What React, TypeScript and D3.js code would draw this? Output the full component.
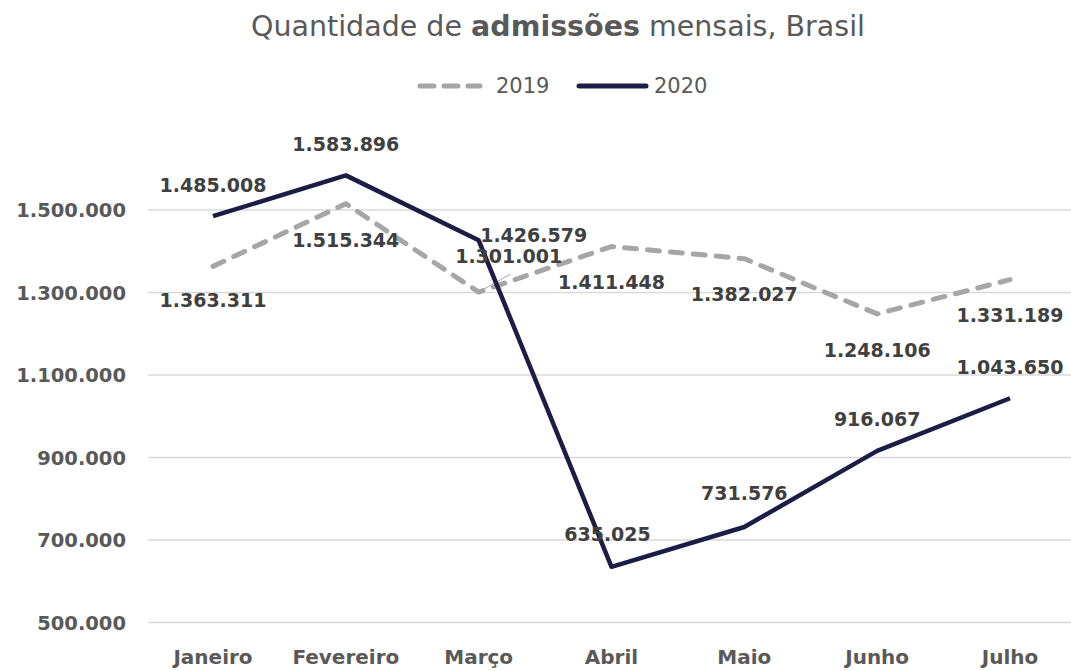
import React, { useEffect, useRef } from "react";
import * as d3 from "d3";

const months = ["Janeiro", "Fevereiro", "Março", "Abril", "Maio", "Junho", "Julho"];
const values2019 = [1363311, 1515344, 1301001, 1411448, 1382027, 1248106, 1331189];
const values2020 = [1485008, 1583896, 1426579, 635025, 731576, 916067, 1043650];
const yTicks = [500000, 700000, 900000, 1100000, 1300000, 1500000];

// label placement relative to the point (px)
const offsets2019 = [[0, 41], [0, 43], [30, -29], [0, 42], [0, 42], [0, 43], [0, 42]];
const offsets2020 = [[0, -24], [0, -24], [55, 2], [-4, -26], [0, -27], [0, -25], [0, -24]];

const fmt = (v: number) => d3.format(",")(v).replace(/,/g, ".");

const App = () => {
  const ref = useRef<SVGSVGElement>(null);

  useEffect(() => {
    const width = 1071;
    const height = 671;
    const font = "'DejaVu Sans', sans-serif";

    const svg = d3.select(ref.current)
      .attr("width", width)
      .attr("height", height);
    svg.selectAll("*").remove();

    const x = d3.scalePoint().domain(months).range([213, 1010]);
    const y = d3.scaleLinear().domain([500000, 1500000]).range([622.5, 210]);

    // grid
    svg.append("g")
      .selectAll("line")
      .data(yTicks)
      .enter()
      .append("line")
      .attr("x1", 148)
      .attr("x2", width)
      .attr("y1", d => y(d))
      .attr("y2", d => y(d))
      .attr("stroke", "#d9d9d9")
      .attr("stroke-width", 1.5);

    svg.append("g")
      .selectAll("text")
      .data(yTicks)
      .enter()
      .append("text")
      .attr("x", 126)
      .attr("y", d => y(d) + 7)
      .attr("text-anchor", "end")
      .attr("font-family", font)
      .attr("font-weight", "bold")
      .attr("font-size", "19.5px")
      .attr("fill", "#595959")
      .text(d => fmt(d));

    svg.append("g")
      .selectAll("text")
      .data(months)
      .enter()
      .append("text")
      .attr("x", d => x(d)!)
      .attr("y", 664)
      .attr("text-anchor", "middle")
      .attr("font-family", font)
      .attr("font-weight", "bold")
      .attr("font-size", "20px")
      .attr("fill", "#595959")
      .text(d => d);

    const line = d3.line<number>()
      .x((d, i) => x(months[i])!)
      .y(d => y(d));

    // leader line for Março 2019
    svg.append("line")
      .attr("x1", x("Março")!)
      .attr("y1", y(values2019[2]))
      .attr("x2", x("Março")! + 32)
      .attr("y2", y(values2019[2]) - 18)
      .attr("stroke", "#a6a6a6")
      .attr("stroke-width", 1);

    svg.append("path")
      .attr("d", line(values2019))
      .attr("fill", "none")
      .attr("stroke", "#a6a6a6")
      .attr("stroke-width", 5)
      .attr("stroke-linecap", "round")
      .attr("stroke-linejoin", "round")
      .attr("stroke-dasharray", "12 11");

    svg.append("path")
      .attr("d", line(values2020))
      .attr("fill", "none")
      .attr("stroke", "#1c1d45")
      .attr("stroke-width", 4.5)
      .attr("stroke-linejoin", "round");

    const labels = (vals: number[], offs: number[][]) => {
      svg.append("g")
        .selectAll("text")
        .data(vals)
        .enter()
        .append("text")
        .attr("x", (d, i) => x(months[i])! + offs[i][0])
        .attr("y", (d, i) => y(d) + offs[i][1])
        .attr("text-anchor", "middle")
        .attr("font-family", font)
        .attr("font-weight", "bold")
        .attr("font-size", "19px")
        .attr("fill", "#404040")
        .text(d => fmt(d));
    };
    labels(values2019, offsets2019);
    labels(values2020, offsets2020);

    // title
    const title = svg.append("text")
      .attr("x", 558)
      .attr("y", 36)
      .attr("text-anchor", "middle")
      .attr("font-family", font)
      .attr("font-size", "28.5px")
      .attr("fill", "#595959");
    title.append("tspan").text("Quantidade de ");
    title.append("tspan").attr("font-weight", "bold").text("admissões");
    title.append("tspan").text(" mensais, Brasil");

    // legend
    const lg = svg.append("g");
    lg.append("line")
      .attr("x1", 420).attr("x2", 480)
      .attr("y1", 86).attr("y2", 86)
      .attr("stroke", "#a6a6a6")
      .attr("stroke-width", 5)
      .attr("stroke-linecap", "round")
      .attr("stroke-dasharray", "14 10");
    lg.append("text")
      .attr("x", 496).attr("y", 93)
      .attr("font-family", font)
      .attr("font-size", "21px")
      .attr("fill", "#595959")
      .text("2019");
    lg.append("line")
      .attr("x1", 579).attr("x2", 646)
      .attr("y1", 86).attr("y2", 86)
      .attr("stroke", "#1c1d45")
      .attr("stroke-width", 5)
      .attr("stroke-linecap", "round");
    lg.append("text")
      .attr("x", 654).attr("y", 93)
      .attr("font-family", font)
      .attr("font-size", "21px")
      .attr("fill", "#595959")
      .text("2020");
  }, []);

  return (
    <svg ref={ref} style={{ position: "absolute", left: 0, top: 0, background: "#fff" }}></svg>
  );
};

export default App;
